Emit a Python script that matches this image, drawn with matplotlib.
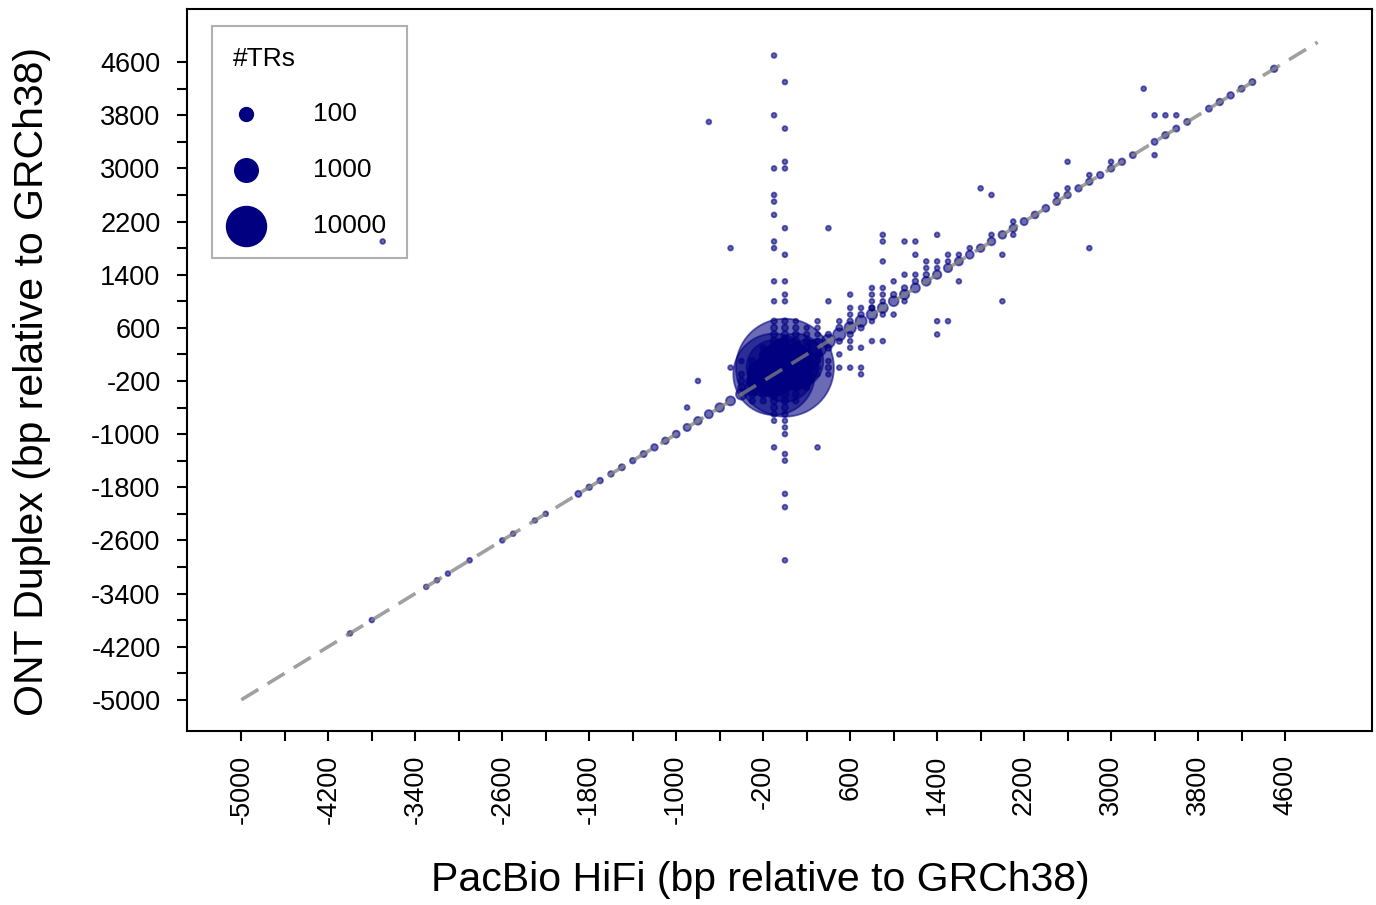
import matplotlib
matplotlib.use("Agg")
import matplotlib.pyplot as plt
import numpy as np

plt.rcParams['font.family'] = ['Liberation Sans', 'DejaVu Sans']

# ---- data: TR length differences (bp relative to GRCh38), binned at 100 bp ----
# points on the identity line (PacBio == ONT)
diag_bp = [-4000, -3800, -3300, -3200, -3100, -2900, -2600, -2500, -2300, -2200,
           -1900, -1800, -1700, -1600, -1500, -1400, -1300, -1200, -1100, -1000,
           -900, -800, -700, -600, -500, -400, -300, -200, -100, 0,
           100, 200, 300, 400, 500, 600, 700, 800, 900, 1000,
           1100, 1200, 1300, 1400, 1500, 1600, 1700, 1800, 1900, 2000,
           2100, 2200, 2300, 2400, 2500, 2600, 2700, 2800, 2900, 3000,
           3100, 3200, 3400, 3500, 3600, 3700, 3900, 4000, 4100, 4200,
           4300, 4500]
diag_count = [1, 1, 1, 1, 1, 1, 1, 1, 1, 1,
              3, 2, 2, 2, 3, 2, 3, 4, 4, 5,
              6, 8, 10, 13, 16, 35, 150, 3000, 220000, 490000,
              40000, 2500, 300, 80, 60, 45, 40, 30, 25, 22,
              18, 16, 14, 12, 11, 10, 9, 8, 8, 8,
              7, 6, 5, 5, 5, 4, 4, 4, 4, 4,
              4, 3, 3, 4, 3, 3, 3, 4, 4, 3,
              3, 4]

# column of discordant calls with PacBio = 0 bp
col0_ont = [4300, 3600, 3100, 3000, 2100, 1700, 1300, 1100, 1000, 700,
            600, 500, 400, 300, 200, -200, -300, -400, -500, -600,
            -700, -800, -900, -1000, -1300, -1400, -1900, -2100, -2900]
col0_count = [1, 1, 1, 1, 1, 1, 1, 1, 1, 2,
              3, 4, 6, 10, 200, 200, 10, 6, 4, 3,
              2, 1, 1, 1, 1, 1, 1, 1, 1]

# column of discordant calls with PacBio = -100 bp
colm100_ont = [4700, 3800, 3000, 2600, 2500, 2300, 1900, 1800, 1300, 1000,
               700, 600, 500, 400, 300, 200, 100, -300, -400, -500,
               -600, -700, -800, -1200]
colm100_count = [1, 1, 1, 1, 1, 1, 1, 1, 1, 1,
                 2, 3, 4, 6, 10, 20, 3000, 20, 8, 4,
                 3, 2, 1, 1]

# dense core around (0, 0)
core_pacbio = [100, 0, -100, 0, 100, -200, -100, -200, -300, -200, 200, 200, 100]
core_ont = [0, 100, 0, -100, -100, -100, -200, 0, -200, -300, 100, 0, 200]
core_count = [15000, 15000, 40000, 40000, 800, 3000, 3000, 200, 50, 50, 20, 10, 10]

# other points near the centre
near_pacbio = [100, 300, 100, 200, 300, 200, 300, 100, 100, 200,
               300, 100, 200, 300, 300, 300, 300, 200, 200, 200,
               100, 100, 100, -200, -200, -300, -300, -300, -400, -400,
               -400, -500, -300, -400, -200, -200, -300, 400, 400, 400,
               500, 600, 700, 700, 500, 600, 600, 700, 800, 900,
               400, 500, 400, 500, 600, 600, 700, 700, 800, 800]
near_ont = [700, 700, 600, 600, 600, 500, 500, 500, 400, 400,
            400, 300, 300, 200, 100, 0, -100, -100, -200, -300,
            -300, -400, -500, 200, 300, 0, 100, -100, 100, -100,
            -200, 0, -400, -300, -400, -500, -500, 100, 0, -100,
            0, 0, 0, -100, 200, 400, 300, 300, 400, 400,
            300, 400, 500, 600, 700, 500, 600, 800, 700, 900]
near_count = [1, 1, 2, 1, 1, 2, 1, 3, 5, 3,
              1, 8, 5, 2, 2, 2, 1, 5, 3, 2,
              5, 3, 2, 5, 2, 5, 3, 10, 1, 2,
              3, 1, 5, 5, 5, 2, 2, 1, 2, 1,
              1, 1, 1, 1, 1, 1, 1, 1, 1, 1,
              3, 2, 2, 3, 2, 2, 2, 2, 1, 2]

# scattered outliers
far_pacbio = [800, 900, 300, -800, -900, -500, -700, -3700, 400, 400,
              600, 600, 800, 900, 800, 900, 800, 900, 1000, 1100,
              1200, 1000, 1100, 1200, 1300, 1100, 1000, 900, 900, 1100,
              1200, 1400, 900, 1200, 1300, 1400, 1300, 1400, 1500, 1600,
              1500, 1600, 1400, 1500, 1400, 2000, 2000, 1800, 1900, 2100,
              2100, 2800, 2600, 3000, 2800, 2600, 2500, 3300, 3400, 3500,
              3600, 3400, 1700, 1900, 700, 500, 600]
far_ont = [900, 800, -1200, -200, -600, 1800, 3700, 1900, 2100, 1000,
           1100, 900, 1100, 1100, 1000, 1000, 1200, 1200, 1300, 1400,
           1400, 1100, 1200, 1300, 1400, 1000, 800, 2000, 1900, 1900,
           1900, 2000, 1600, 1700, 1600, 1600, 1500, 1500, 1700, 1700,
           1600, 1300, 700, 700, 500, 1700, 1000, 2700, 2600, 2200,
           2000, 1800, 3100, 3100, 2900, 2700, 2600, 4200, 3800, 3800,
           3800, 3200, 1800, 2000, 900, 700, 800]
far_count = [1, 1, 1, 1, 1, 1, 1, 1, 1, 1,
             1, 1, 1, 1, 1, 1, 1, 1, 1, 1,
             1, 2, 2, 2, 2, 1, 1, 1, 1, 1,
             1, 1, 1, 1, 1, 1, 1, 1, 1, 1,
             1, 1, 1, 1, 1, 1, 1, 1, 1, 1,
             1, 1, 1, 1, 1, 1, 1, 1, 1, 1,
             1, 1, 1, 1, 1, 1, 1]

legend_counts = [100, 1000, 10000]
tick_values = [-5000, -4600, -4200, -3800, -3400, -3000, -2600, -2200, -1800, -1400, -1000,
               -600, -200, 200, 600, 1000, 1400, 1800, 2200, 2600, 3000, 3400, 3800, 4200, 4600]
tick_text = ['-5000', '', '-4200', '', '-3400', '', '-2600', '', '-1800', '', '-1000',
             '', '-200', '', '600', '', '1400', '', '2200', '', '3000', '', '3800', '', '4600']
identity_line = [-5000, 4900]

# ---- build ----
pacbio = np.concatenate([diag_bp, [0] * len(col0_ont), [-100] * len(colm100_ont),
                         core_pacbio, near_pacbio, far_pacbio]).astype(float)
ont = np.concatenate([diag_bp, col0_ont, colm100_ont,
                      core_ont, near_ont, far_ont]).astype(float)
count = np.concatenate([diag_count, col0_count, colm100_count,
                        core_count, near_count, far_count]).astype(float)


def marker_area(c):
    return 12.0 * np.power(c, 0.46)


fig = plt.figure(figsize=(13.76, 9.05), dpi=100)
ax = fig.add_axes([187 / 1376, 1 - 731 / 905, 1185 / 1376, 722 / 905])

ax.scatter(pacbio, ont, s=marker_area(count), c='navy', alpha=0.58,
           edgecolors='navy', linewidths=1.3, zorder=2)
ax.plot(identity_line, identity_line, color='gray', alpha=0.75, lw=2.6,
        ls=(0, (5.5, 3)), zorder=3)

ax.set_xlim(-5500, 5400)
ax.set_ylim(-5470, 5400)
ax.set_xticks(tick_values)
ax.set_xticklabels(tick_text, rotation=90, fontsize=19.5)
ax.set_yticks(tick_values)
ax.set_yticklabels(tick_text, fontsize=19.5)
ax.tick_params(axis='both', direction='out', length=7, width=1.5, colors='black')
ax.tick_params(axis='x', pad=10)
ax.tick_params(axis='y', pad=12)
for sp in ax.spines.values():
    sp.set_linewidth(1.5)
    sp.set_color('black')

ax.set_xlabel('PacBio HiFi (bp relative to GRCh38)', fontsize=29.5, va='center')
ax.set_ylabel('ONT Duplex (bp relative to GRCh38)', fontsize=29.5, va='center')
ax.xaxis.set_label_coords((760 - 187) / 1185, (731 - 880) / 722)
ax.yaxis.set_label_coords((32 - 187) / 1185, (731 - 381) / 722)

handles = [ax.scatter([], [], s=marker_area(c), color='navy') for c in legend_counts]
leg = ax.legend(handles, [str(c) for c in legend_counts], title='#TRs',
                loc='upper left', bbox_to_anchor=(25 / 1185, 1 - 17 / 722),
                borderaxespad=0, fontsize=19, title_fontsize=19, scatterpoints=1,
                frameon=True, fancybox=False, edgecolor='#b0b0b0', framealpha=1,
                borderpad=0.78, handlelength=1.0, handletextpad=2.05, labelspacing=1.2,
                alignment='left')
frame = leg.get_frame()
frame.set_alpha(None)
frame.set_facecolor('none')
frame.set_edgecolor('#b0b0b0')
frame.set_linewidth(1.5)
leg.set_zorder(1)

fig.savefig('out.png', dpi=100)
